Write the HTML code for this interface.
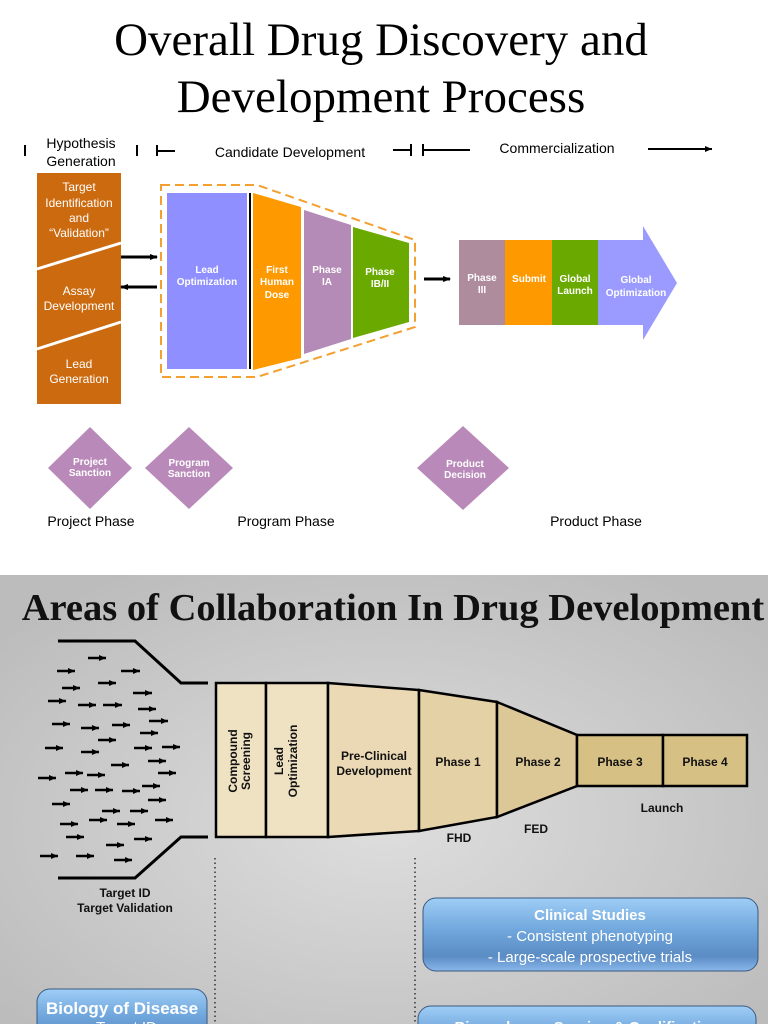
<!DOCTYPE html>
<html><head><meta charset="utf-8"><style>
html,body{margin:0;padding:0;background:#fff}
svg{display:block}
.s{font-family:"Liberation Sans",sans-serif}
.w{fill:#fff;font-family:"Liberation Sans",sans-serif;font-weight:bold;font-size:10px;text-anchor:middle}
.wn{fill:#fff;font-family:"Liberation Sans",sans-serif;font-size:12px;text-anchor:middle}
.b{font-family:"Liberation Sans",sans-serif;font-weight:bold;font-size:12px;text-anchor:middle;fill:#111}
</style></head><body>
<svg width="768" height="1024" viewBox="0 0 768 1024" xmlns="http://www.w3.org/2000/svg">
<defs>
<radialGradient id="bg" cx="0.5" cy="0.55" r="0.65">
<stop offset="0" stop-color="#dedede"/><stop offset="1" stop-color="#bcbcbc"/></radialGradient>
<linearGradient id="bl" x1="0" y1="0" x2="0" y2="1">
<stop offset="0" stop-color="#9fcdf6"/><stop offset="0.45" stop-color="#6fa6dc"/><stop offset="0.8" stop-color="#5b8cc4"/><stop offset="1" stop-color="#8ab8ec"/></linearGradient>
<marker id="ah" markerWidth="8" markerHeight="8" refX="7" refY="4" orient="auto" markerUnits="userSpaceOnUse"><path d="M0,1 L8,4 L0,7 z" fill="#000"/></marker>
<marker id="sa" markerWidth="7" markerHeight="7" refX="7" refY="3.5" orient="auto" markerUnits="userSpaceOnUse"><path d="M0,0.5 L7,3.5 L0,6.5 z" fill="#000"/></marker>
</defs>
<rect width="768" height="575" fill="#fff"/>
<text x="381" y="55" font-family="Liberation Serif,serif" font-size="47" text-anchor="middle">Overall Drug Discovery and</text>
<text x="381" y="112" font-family="Liberation Serif,serif" font-size="47" text-anchor="middle">Development Process</text>

<g stroke="#000" stroke-width="2">
<line x1="25" y1="145" x2="25" y2="156"/>
<line x1="137" y1="145" x2="137" y2="156"/>
<line x1="157" y1="145" x2="157" y2="156"/><line x1="157" y1="151" x2="175" y2="151"/>
<line x1="393" y1="150" x2="411" y2="150"/><line x1="411" y1="144" x2="411" y2="156"/>
<line x1="423" y1="144" x2="423" y2="156"/><line x1="423" y1="150" x2="470" y2="150"/>
<line x1="648" y1="149" x2="712" y2="149" marker-end="url(#sa)"/>
</g>
<text x="81" y="148" class="s" font-size="14" text-anchor="middle">Hypothesis</text>
<text x="81" y="166" class="s" font-size="14" text-anchor="middle">Generation</text>
<text x="290" y="157" class="s" font-size="14" text-anchor="middle">Candidate Development</text>
<text x="557" y="153" class="s" font-size="14" text-anchor="middle">Commercialization</text>

<rect x="37" y="173" width="84" height="231" fill="#cc6a0f"/>
<line x1="37" y1="269" x2="121" y2="243" stroke="#fff" stroke-width="3"/>
<line x1="37" y1="349" x2="121" y2="322" stroke="#fff" stroke-width="3"/>
<text class="wn" x="79" y="191">Target</text>
<text class="wn" x="79" y="207">Identification</text>
<text class="wn" x="79" y="222">and</text>
<text class="wn" x="79" y="237">“Validation”</text>
<text class="wn" x="79" y="295">Assay</text>
<text class="wn" x="79" y="310">Development</text>
<text class="wn" x="79" y="368">Lead</text>
<text class="wn" x="79" y="383">Generation</text>
<line x1="121" y1="257" x2="157" y2="257" stroke="#000" stroke-width="3" marker-end="url(#ah)"/>
<line x1="157" y1="287" x2="121" y2="287" stroke="#000" stroke-width="3" marker-end="url(#ah)"/>

<polygon points="161,185 257,185 415,240 415,327 257,377 161,377" fill="none" stroke="#f4a030" stroke-width="2" stroke-dasharray="9,5"/>
<rect x="167" y="193" width="80" height="176" fill="#8f8fff"/>
<line x1="250" y1="193" x2="250" y2="369" stroke="#000" stroke-width="2"/>
<polygon points="253,193 301,207 301,358 253,370" fill="#ff9900"/>
<polygon points="304,210 351,225 351,339 304,354" fill="#b48ab6"/>
<polygon points="353,227 409,243 409,322 353,338" fill="#6aaa00"/>
<text class="w" x="207" y="273">Lead</text><text class="w" x="207" y="285">Optimization</text>
<text class="w" x="277" y="273">First</text><text class="w" x="277" y="285">Human</text><text class="w" x="277" y="298">Dose</text>
<text class="w" x="327" y="273">Phase</text><text class="w" x="327" y="285">IA</text>
<text class="w" x="380" y="275">Phase</text><text class="w" x="380" y="287">IB/II</text>

<line x1="424" y1="279" x2="450" y2="279" stroke="#000" stroke-width="3" marker-end="url(#ah)"/>
<rect x="459" y="240" width="46" height="85" fill="#ae8c9e"/>
<rect x="505" y="240" width="47" height="85" fill="#ff9900"/>
<rect x="552" y="240" width="46" height="85" fill="#6aaa00"/>
<polygon points="598,240 643,240 643,226 677,283 643,340 643,325 598,325" fill="#9b9bff"/>
<text class="w" x="482" y="281">Phase</text><text class="w" x="482" y="293">III</text>
<text class="w" x="529" y="282">Submit</text>
<text class="w" x="575" y="282">Global</text><text class="w" x="575" y="294">Launch</text>
<text class="w" x="636" y="283">Global</text><text class="w" x="636" y="296">Optimization</text>

<g fill="#b98ab9">
<polygon points="90,427 132,468 90,509 48,468"/>
<polygon points="189,427 233,468 189,509 145,468"/>
<polygon points="463,426 509,468 463,510 417,468"/>
</g>
<text class="w" x="90" y="465">Project</text><text class="w" x="90" y="476">Sanction</text>
<text class="w" x="189" y="466">Program</text><text class="w" x="189" y="477">Sanction</text>
<text class="w" x="465" y="467">Product</text><text class="w" x="465" y="478">Decision</text>
<text x="91" y="526" class="s" font-size="14" text-anchor="middle">Project Phase</text>
<text x="286" y="526" class="s" font-size="14" text-anchor="middle">Program Phase</text>
<text x="596" y="526" class="s" font-size="14" text-anchor="middle">Product Phase</text>

<rect x="0" y="575" width="768" height="449" fill="url(#bg)"/>
<text x="393" y="620" font-family="Liberation Serif,serif" font-weight="bold" font-size="38.5" text-anchor="middle" fill="#111">Areas of Collaboration In Drug Development</text>

<g stroke="#000" stroke-width="3" fill="none">
<polyline points="58,641 135,641 181,683 208,683"/>
<polyline points="58,878 135,878 181,837 208,837"/>
</g>
<g stroke="#000" stroke-width="2.5" marker-end="url(#sa)">
<line x1="88" y1="658" x2="106" y2="658"/>
<line x1="57" y1="671" x2="75" y2="671"/><line x1="121" y1="671" x2="140" y2="671"/>
<line x1="98" y1="683" x2="116" y2="683"/><line x1="62" y1="688" x2="80" y2="688"/>
<line x1="133" y1="693" x2="152" y2="693"/><line x1="48" y1="701" x2="66" y2="701"/>
<line x1="78" y1="705" x2="96" y2="705"/><line x1="103" y1="705" x2="122" y2="705"/>
<line x1="138" y1="709" x2="156" y2="709"/><line x1="52" y1="724" x2="70" y2="724"/>
<line x1="81" y1="728" x2="99" y2="728"/><line x1="112" y1="725" x2="130" y2="725"/>
<line x1="149" y1="721" x2="168" y2="721"/><line x1="140" y1="733" x2="158" y2="733"/>
<line x1="98" y1="740" x2="116" y2="740"/><line x1="45" y1="748" x2="63" y2="748"/>
<line x1="81" y1="752" x2="99" y2="752"/><line x1="134" y1="748" x2="152" y2="748"/>
<line x1="162" y1="747" x2="180" y2="747"/><line x1="148" y1="761" x2="166" y2="761"/>
<line x1="111" y1="765" x2="129" y2="765"/><line x1="38" y1="778" x2="56" y2="778"/>
<line x1="65" y1="773" x2="83" y2="773"/><line x1="87" y1="775" x2="105" y2="775"/>
<line x1="158" y1="773" x2="176" y2="773"/><line x1="142" y1="786" x2="160" y2="786"/>
<line x1="70" y1="790" x2="88" y2="790"/><line x1="95" y1="790" x2="113" y2="790"/>
<line x1="122" y1="791" x2="140" y2="791"/><line x1="52" y1="804" x2="70" y2="804"/>
<line x1="148" y1="800" x2="166" y2="800"/><line x1="102" y1="811" x2="120" y2="811"/>
<line x1="130" y1="811" x2="148" y2="811"/><line x1="89" y1="820" x2="107" y2="820"/>
<line x1="60" y1="824" x2="78" y2="824"/><line x1="117" y1="824" x2="135" y2="824"/>
<line x1="155" y1="820" x2="173" y2="820"/><line x1="66" y1="837" x2="84" y2="837"/>
<line x1="106" y1="845" x2="124" y2="845"/><line x1="134" y1="839" x2="152" y2="839"/>
<line x1="40" y1="856" x2="58" y2="856"/><line x1="76" y1="856" x2="94" y2="856"/>
<line x1="114" y1="860" x2="132" y2="860"/>
</g>

<g stroke="#000" stroke-width="2.5">
<rect x="216" y="683" width="50" height="154" fill="#efe2c3"/>
<rect x="266" y="683" width="62" height="154" fill="#efe2c3"/>
<polygon points="328,683 419,690 419,831 328,837" fill="#ead9b4"/>
<polygon points="419,690 497,702 497,817 419,831" fill="#e4d1a5"/>
<polygon points="497,702 577,735 577,786 497,817" fill="#dcc796"/>
<rect x="577" y="735" width="86" height="51" fill="#d7c084"/>
<rect x="663" y="735" width="84" height="51" fill="#d7c084"/>
</g>
<text class="b" font-size="11" transform="translate(237,761) rotate(-90)">Compound</text>
<text class="b" font-size="11" transform="translate(250,761) rotate(-90)">Screening</text>
<text class="b" font-size="11" transform="translate(283,761) rotate(-90)">Lead</text>
<text class="b" font-size="11" transform="translate(297,761) rotate(-90)">Optimization</text>
<text class="b" x="374" y="760">Pre-Clinical</text>
<text class="b" x="374" y="775">Development</text>
<text class="b" x="458" y="766">Phase 1</text>
<text class="b" x="538" y="766">Phase 2</text>
<text class="b" x="620" y="766">Phase 3</text>
<text class="b" x="705" y="766">Phase 4</text>
<text class="b" x="459" y="842" font-size="15">FHD</text>
<text class="b" x="536" y="833" font-size="15">FED</text>
<text class="b" x="662" y="812" font-size="15">Launch</text>
<text class="b" x="125" y="897">Target ID</text>
<text class="b" x="125" y="912">Target Validation</text>

<g stroke="#333" stroke-width="1.5" stroke-dasharray="1.5,3">
<line x1="215" y1="858" x2="215" y2="1024"/>
<line x1="415" y1="858" x2="415" y2="1024"/>
</g>
<rect x="423" y="898" width="335" height="73" rx="13" fill="url(#bl)" stroke="#3a5a80" stroke-width="1"/>
<text x="590" y="920" class="s" font-size="15" font-weight="bold" fill="#fff" text-anchor="middle">Clinical Studies</text>
<text x="590" y="941" class="s" font-size="15" fill="#fff" text-anchor="middle">- Consistent phenotyping</text>
<text x="590" y="962" class="s" font-size="15" fill="#fff" text-anchor="middle">- Large-scale prospective trials</text>
<rect x="37" y="989" width="170" height="60" rx="13" fill="url(#bl)" stroke="#3a5a80" stroke-width="1"/>
<text x="122" y="1014" class="s" font-size="17" font-weight="bold" fill="#fff" text-anchor="middle">Biology of Disease</text>
<text x="122" y="1032" class="s" font-size="15" fill="#fff" text-anchor="middle">- Target ID</text>
<rect x="418" y="1006" width="338" height="60" rx="13" fill="url(#bl)" stroke="#3a5a80" stroke-width="1"/>
<text x="587" y="1032" class="s" font-size="15" font-weight="bold" fill="#fff" text-anchor="middle">Biomarkers – Scoring &amp; Qualification</text>
</svg>
</body></html>
